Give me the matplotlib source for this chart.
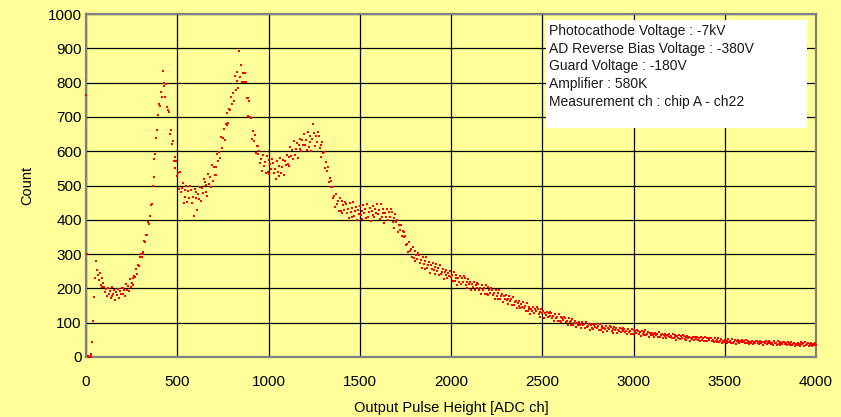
import matplotlib
matplotlib.use('Agg')
import matplotlib.pyplot as plt
import matplotlib.patches as mpatches
import numpy as np

plt.rcParams['font.family'] = ['Liberation Sans', 'DejaVu Sans']

# ---------------- data ----------------
channel_step = 5  # ADC channels between successive samples
counts = [
    765, 300, 2, 0, 1, 3, 8, 45, 105, 175, 230, 280, 255, 240, 225, 245, 210, 230, 205, 215,
    205, 190, 198, 178, 200, 183, 192, 172, 203, 178, 185, 196, 165, 189, 180, 198, 171, 193, 183, 202,
    201, 184, 195, 179, 212, 196, 208, 193, 227, 203, 215, 230, 209, 237, 234, 258, 241, 267, 266, 292,
    299, 291, 307, 301, 337, 334, 355, 355, 395, 388, 410, 443, 445, 498, 526, 576, 591, 638, 663, 706,
    738, 733, 773, 758, 835, 789, 799, 759, 795, 730, 720, 715, 650, 661, 621, 631, 572, 582, 552, 572,
    528, 535, 490, 540, 482, 492, 506, 449, 487, 467, 500, 451, 484, 464, 498, 486, 450, 467, 410, 491,
    463, 482, 430, 474, 460, 497, 454, 492, 478, 518, 511, 480, 502, 470, 534, 503, 525, 495, 560, 512,
    553, 530, 553, 531, 591, 571, 597, 579, 642, 610, 638, 665, 632, 680, 677, 711, 682, 724, 719, 759,
    738, 770, 747, 820, 777, 805, 830, 783, 893, 815, 850, 801, 829, 801, 827, 803, 754, 756, 703, 746,
    700, 698, 637, 658, 629, 646, 595, 615, 592, 615, 600, 565, 576, 542, 590, 557, 569, 537, 586, 539,
    574, 534, 563, 547, 576, 566, 535, 549, 519, 570, 540, 556, 527, 580, 537, 555, 573, 531, 571, 560,
    590, 564, 583, 557, 612, 586, 604, 577, 631, 589, 606, 623, 580, 618, 605, 637, 600, 632, 618, 649,
    617, 633, 604, 656, 612, 628, 644, 600, 637, 678, 653, 614, 643, 627, 655, 643, 609, 619, 583, 627,
    595, 598, 550, 568, 542, 555, 509, 522, 497, 513, 496, 463, 469, 437, 475, 445, 454, 425, 465, 425,
    454, 420, 444, 430, 452, 446, 420, 432, 405, 448, 422, 435, 408, 451, 412, 425, 438, 399, 429, 416,
    439, 414, 427, 401, 444, 419, 432, 406, 447, 409, 422, 435, 397, 427, 414, 440, 407, 432, 419, 445,
    417, 430, 403, 446, 407, 419, 431, 392, 421, 407, 432, 398, 422, 408, 432, 422, 395, 406, 377, 417,
    393, 399, 365, 384, 369, 384, 352, 366, 350, 364, 352, 326, 330, 305, 334, 309, 315, 291, 321, 288,
    309, 280, 298, 286, 302, 296, 274, 282, 260, 293, 271, 280, 258, 291, 259, 268, 277, 245, 268, 257,
    273, 254, 261, 242, 271, 251, 259, 239, 269, 241, 248, 256, 228, 248, 238, 254, 229, 246, 235, 252,
    232, 239, 221, 249, 222, 230, 238, 210, 229, 220, 236, 213, 229, 219, 235, 229, 211, 219, 200, 228,
    212, 219, 194, 212, 203, 218, 196, 211, 202, 217, 212, 195, 202, 185, 211, 194, 201, 184, 210, 185,
    203, 182, 196, 187, 200, 196, 180, 187, 170, 195, 179, 186, 169, 194, 170, 177, 184, 160, 177, 168,
    180, 165, 170, 155, 178, 162, 168, 153, 175, 153, 159, 164, 142, 158, 149, 162, 143, 155, 147, 160,
    142, 148, 134, 156, 135, 141, 147, 126, 141, 133, 146, 128, 140, 133, 145, 140, 126, 132, 118, 139,
    128, 133, 114, 128, 121, 132, 116, 127, 120, 131, 127, 114, 119, 106, 126, 113, 118, 106, 125, 106,
    118, 102, 113, 107, 116, 114, 102, 106, 94, 113, 101, 106, 94, 112, 94, 100, 105, 87, 99, 94,
    102, 92, 96, 86, 102, 92, 96, 86, 102, 87, 91, 96, 80, 92, 86, 96, 83, 92, 87, 96,
    85, 90, 79, 96, 80, 85, 90, 74, 86, 81, 90, 77, 86, 81, 91, 87, 77, 82, 71, 88,
    80, 84, 70, 80, 75, 84, 72, 81, 76, 84, 81, 72, 76, 67, 82, 72, 77, 68, 82, 68,
    79, 68, 76, 71, 79, 76, 67, 72, 62, 77, 68, 72, 63, 78, 63, 68, 73, 58, 69, 64,
    71, 63, 66, 58, 71, 63, 66, 58, 72, 59, 63, 67, 54, 64, 60, 68, 56, 64, 60, 67,
    58, 62, 54, 67, 55, 59, 63, 50, 60, 56, 64, 52, 60, 56, 64, 61, 53, 57, 49, 61,
    55, 59, 48, 55, 52, 59, 50, 57, 52, 59, 57, 50, 54, 46, 58, 51, 54, 47, 58, 47,
    56, 47, 54, 49, 56, 54, 47, 51, 43, 55, 48, 51, 44, 55, 44, 48, 52, 41, 48, 45,
    51, 44, 48, 41, 52, 45, 48, 41, 53, 42, 45, 49, 38, 46, 43, 50, 41, 47, 43, 50,
    43, 46, 40, 50, 41, 44, 46, 37, 44, 41, 47, 39, 45, 42, 48, 47, 40, 43, 37, 47,
    42, 45, 36, 43, 40, 46, 37, 43, 40, 46, 45, 39, 42, 36, 46, 40, 42, 36, 46, 37,
    44, 36, 42, 39, 45, 44, 37, 40, 34, 44, 38, 41, 35, 45, 36, 38, 41, 32, 39, 36,
    42, 36, 39, 33, 43, 37, 40, 33, 43, 34, 37, 40, 31, 38, 36, 40, 32, 38, 35, 41,
    36,
]
channels = np.arange(len(counts)) * channel_step

x_ticks = [0, 500, 1000, 1500, 2000, 2500, 3000, 3500, 4000]
y_ticks = [0, 100, 200, 300, 400, 500, 600, 700, 800, 900, 1000]
x_label = 'Output Pulse Height [ADC ch]'
y_label = 'Count'
info_lines = [
    'Photocathode Voltage : -7kV',
    'AD Reverse Bias Voltage : -380V',
    'Guard Voltage : -180V',
    'Amplifier : 580K',
    'Measurement ch : chip A - ch22',
]

# ---------------- figure ----------------
BG = '#FFFF99'
fig = plt.figure(figsize=(8.41, 4.17), dpi=100, facecolor=BG)
ax = fig.add_axes([86 / 841, 60 / 417, 730 / 841, 343 / 417])
ax.set_facecolor(BG)

ax.plot(channels, counts, ls='none', marker='s', ms=2.0, mew=0,
        color='#FF0000', zorder=3, clip_on=False)

ax.set_xlim(0, 4000)
ax.set_ylim(0, 1000)
ax.set_xticks(x_ticks)
ax.set_yticks(y_ticks)
ax.grid(True, color='black', lw=0.9)
ax.set_axisbelow(True)
for s in ax.spines.values():
    s.set_color('#808080')
    s.set_linewidth(1.6)
ax.tick_params(axis='both', length=0, labelsize=11, colors='black')
ax.tick_params(axis='x', pad=13)
ax.tick_params(axis='y', pad=3)

ax.set_xlabel(x_label, fontsize=10.5)
ax.xaxis.label.set_va('center')
ax.xaxis.set_label_coords(0.5, -0.149)
ax.set_ylabel(y_label, fontsize=10.5)
ax.yaxis.label.set_va('center')
ax.yaxis.set_label_coords(-0.081, 0.5)

# annotation box
box = mpatches.Rectangle((0.630, 0.6676), 0.358, 0.315, transform=ax.transAxes,
                         facecolor='white', edgecolor='none', zorder=4)
ax.add_patch(box)
top = 0.950
step = 17.6 / 343
for i, line in enumerate(info_lines):
    ax.text(0.634, top - i * step, line, transform=ax.transAxes, fontsize=10,
            ha='left', va='center', zorder=5, color='#1a1a1a')

fig.savefig('out.png', dpi=100, facecolor=BG)
